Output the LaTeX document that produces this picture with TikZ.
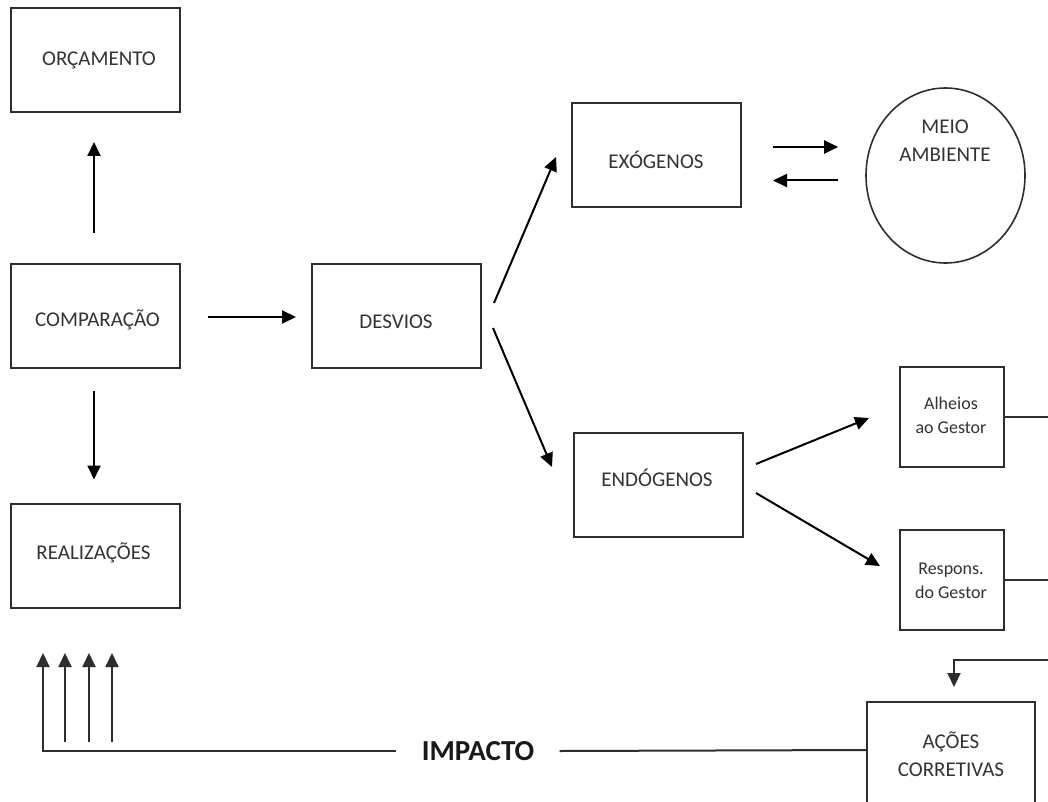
\documentclass[tikz,border=0pt]{standalone}
\usepackage{fontspec}
\setmainfont{Carlito}
\usetikzlibrary{arrows.meta,calc,shapes.geometric}
\definecolor{txt}{HTML}{333333}
\definecolor{bord}{HTML}{2E2E2E}
\begin{document}
\begin{tikzpicture}[x=1pt,y=-1pt,
  box/.style={draw=bord, line width=2pt, rectangle, minimum width=169pt, minimum height=104pt, inner sep=0pt},
  smallbox/.style={box, minimum width=104pt, minimum height=100pt},
  lbl/.style={text=txt, font=\fontsize{21}{28}\selectfont, align=center, inner sep=0pt},
  slbl/.style={text=txt, font=\fontsize{18}{24}\selectfont, align=center, inner sep=0pt},
  arr/.style={draw=black, line width=2pt, -{Triangle[length=14pt,width=13pt]}},
  ln/.style={draw=bord, line width=2pt},
]
\useasboundingbox (0,0) rectangle (1048,802);
\clip (0,0) rectangle (1048,802);
\fill[white] (0,0) rectangle (1048,802);

% boxes
\node[box] (orc)  at (95.5,60)    {};
\node[box] (comp) at (95.5,315.5) {};
\node[box] (real) at (95.5,555.5) {};
\node[box] (desv) at (396.5,316)  {};
\node[box] (exo)  at (656.5,155.5) {};
\node[box] (endo) at (658.5,484.5) {};
\node[smallbox] (alh)  at (952,417) {};
\node[smallbox] (resp) at (952,580) {};
\node[box, minimum width=168pt, minimum height=130pt] (acoes) at (951,767) {};
\node[draw=bord, line width=1.6pt, ellipse, minimum width=159pt, minimum height=175pt, inner sep=0pt] (meio) at (945.5,175.5) {};

% labels
\node[lbl] (orct)  at (99,60)  {ORÇAMENTO};
\node[lbl] (compt) at (97.5,320) {COMPARAÇÃO};
\node[lbl] (realt) at (93.5,553) {REALIZAÇÕES};
\node[lbl] (desvt) at (396,322) {DESVIOS};
\node[lbl] (exot)  at (656,160) {EXÓGENOS};
\node[lbl] (endot) at (657,478) {ENDÓGENOS};
\node[slbl] (alht)  at (951,415) {Alheios\\ao Gestor};
\node[slbl] (respt) at (951,581) {Respons.\\do Gestor};
\node[lbl] (acoestxt) at (951,754) {AÇÕES\\CORRETIVAS};
\node[lbl] (meiotxt) at (945,141) {MEIO\\AMBIENTE};
\node[fill=white, inner sep=0pt, minimum width=163pt, minimum height=48pt, text=black!90, font=\bfseries\fontsize{29}{30}\selectfont] (impacto) at (478,751) {IMPACTO};

% left column arrows
\draw[arr] ($(comp.north)+(-1.5,-30)$) -- ($(orc.south)+(-1.5,29)$);
\draw[arr] ($(comp.south)+(-1.5,22)$) -- ($(real.north)+(-1.5,-23)$);
\draw[arr] ($(comp.east)+(27,1.5)$) -- ($(desv.west)+(-15,1)$);

% desvios branches
\draw[arr] ($(desv.east)+(12,-13)$) -- ($(exo.west)+(-15,1.5)$);
\draw[arr] ($(desv.east)+(11,12)$) -- ($(endo.west)+(-21,-17.5)$);

% exogenos <-> meio ambiente
\draw[arr] ($(exo.east)+(31,-8.5)$) -- ($(meio.west)+(-27,-28.5)$);
\draw[arr] ($(meio.west)+(-27,5)$) -- ($(exo.east)+(31,25)$);

% endogenos branches
\draw[arr] ($(endo.east)+(12,-20.5)$) -- ($(alh.west)+(-30,1)$);
\draw[arr] ($(endo.east)+(12,8.5)$) -- ($(resp.west)+(-19,-14)$);

% right edge lines
\coordinate (redge) at (1048,0);
\draw[ln] (alh.east) -- (alh.east -| redge);
\draw[ln] (resp.east) -- (resp.east -| redge);
\coordinate (rB) at (1048,660);
\draw[arr, draw=bord] (rB) -| ($(acoes.north)+(3,-14)$);

% impacto feedback
\draw[ln] ($(acoes.north west)+(0,49)$) -- (impacto.east);
\coordinate (t1) at (43,653);
\coordinate (b2) at (65,742);  \coordinate (t2) at (65,653);
\coordinate (b3) at (89,742);  \coordinate (t3) at (89,653);
\coordinate (b4) at (112,742); \coordinate (t4) at (112,653);
\draw[arr, draw=bord] (impacto.west) -| (t1);
\draw[arr, draw=bord] (b2) -- (t2);
\draw[arr, draw=bord] (b3) -- (t3);
\draw[arr, draw=bord] (b4) -- (t4);
\end{tikzpicture}
\end{document}
